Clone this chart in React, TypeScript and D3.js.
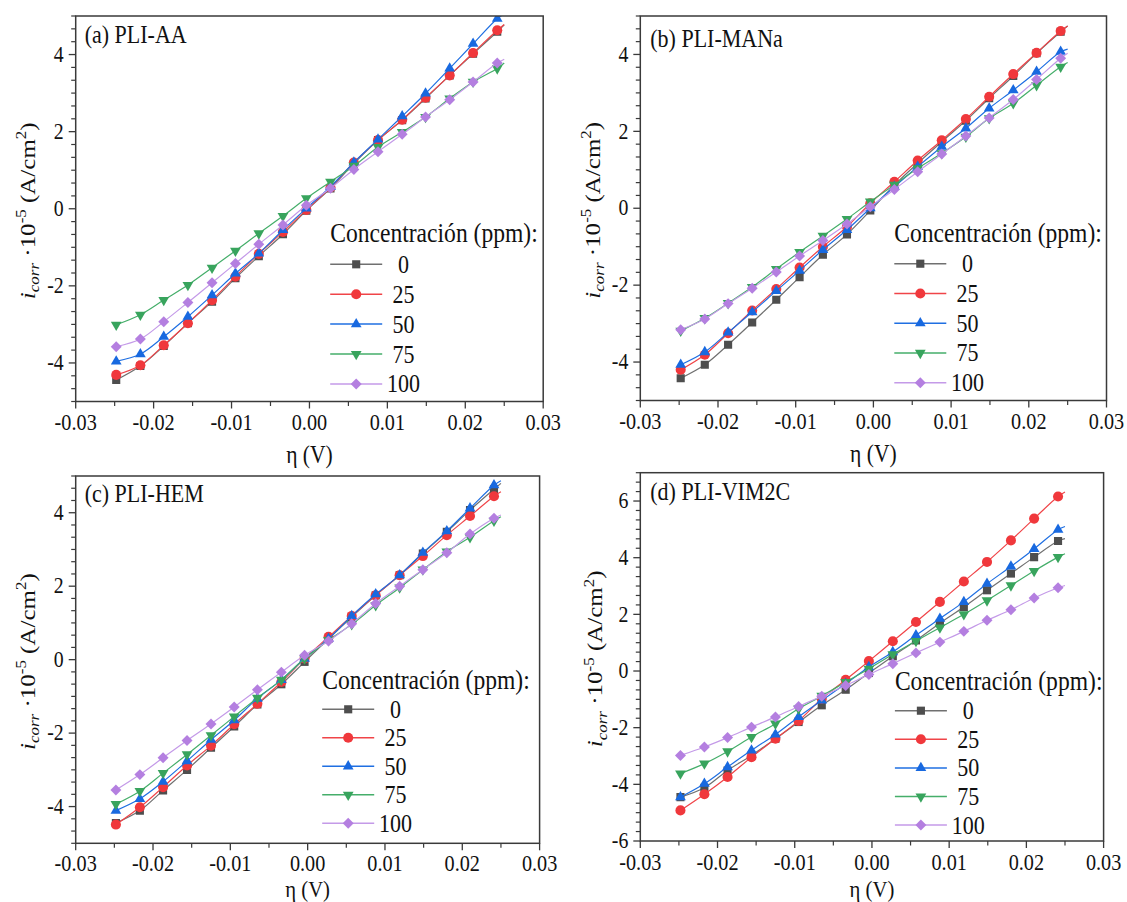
import React from 'react';
import * as d3 from 'd3';

const eta = [-0.0248, -0.0217, -0.0187, -0.0156, -0.0125, -0.0095, -0.0065, -0.0034, -0.0004, 0.0027, 0.0057, 0.0088, 0.0119, 0.0149, 0.018, 0.021, 0.0241];
const etaEnd = 0.025;
const concentrations = ['0', '25', '50', '75', '100'];
const xTicks = [-0.03, -0.02, -0.01, 0, 0.01, 0.02, 0.03];
const xTickLabels = ['-0.03', '-0.02', '-0.01', '0.00', '0.01', '0.02', '0.03'];
const yTicksABC = [-4, -2, 0, 2, 4];
const yTicksD = [-6, -4, -2, 0, 2, 4, 6];

// (a) PLI-AA
const aa0 = [-4.44, -4.08, -3.56, -2.97, -2.41, -1.8, -1.23, -0.66, -0.05, 0.53, 1.17, 1.78, 2.3, 2.86, 3.46, 4.02, 4.59];
const aa25 = [-4.31, -4.06, -3.54, -2.97, -2.37, -1.76, -1.17, -0.6, -0.03, 0.55, 1.2, 1.78, 2.31, 2.88, 3.46, 4.04, 4.63];
const aa50 = [-3.96, -3.77, -3.32, -2.8, -2.24, -1.68, -1.16, -0.55, 0.01, 0.57, 1.2, 1.8, 2.4, 2.99, 3.64, 4.28, 4.93];
const aa75 = [-3.01, -2.75, -2.37, -1.98, -1.53, -1.09, -0.64, -0.19, 0.27, 0.7, 1.11, 1.6, 1.99, 2.38, 2.86, 3.29, 3.64];
const aa100 = [-3.58, -3.38, -2.93, -2.43, -1.92, -1.42, -0.92, -0.42, 0.09, 0.53, 1.02, 1.48, 1.93, 2.38, 2.83, 3.29, 3.78];
const aaEnd = [4.77, 4.78, 5.05, 3.78, 3.88];

// (b) PLI-MANa
const ma0 = [-4.42, -4.07, -3.55, -2.97, -2.38, -1.79, -1.21, -0.68, -0.06, 0.6, 1.17, 1.73, 2.28, 2.86, 3.44, 4.03, 4.59];
const ma25 = [-4.2, -3.81, -3.25, -2.66, -2.1, -1.54, -1.0, -0.48, 0.13, 0.69, 1.24, 1.77, 2.32, 2.9, 3.49, 4.04, 4.61];
const ma50 = [-4.07, -3.74, -3.23, -2.7, -2.15, -1.62, -1.08, -0.56, 0.0, 0.56, 1.08, 1.6, 2.08, 2.6, 3.07, 3.55, 4.07];
const ma75 = [-3.19, -2.86, -2.47, -2.05, -1.58, -1.14, -0.72, -0.28, 0.17, 0.61, 1.04, 1.43, 1.86, 2.34, 2.73, 3.2, 3.68];
const ma100 = [-3.16, -2.88, -2.48, -2.08, -1.66, -1.24, -0.84, -0.41, 0.04, 0.49, 0.95, 1.41, 1.88, 2.35, 2.83, 3.35, 3.9];
const maEnd = [4.74, 4.74, 4.14, 3.79, 4.03];

// (c) PLI-HEM
const he0 = [-4.45, -4.11, -3.56, -3.0, -2.4, -1.82, -1.22, -0.67, -0.06, 0.57, 1.16, 1.75, 2.3, 2.89, 3.48, 4.07, 4.64];
const he25 = [-4.49, -4.02, -3.47, -2.88, -2.34, -1.76, -1.2, -0.61, 0.03, 0.62, 1.19, 1.75, 2.3, 2.82, 3.39, 3.91, 4.45];
const he50 = [-4.11, -3.79, -3.32, -2.76, -2.18, -1.65, -1.06, -0.55, 0.03, 0.57, 1.19, 1.78, 2.3, 2.91, 3.5, 4.12, 4.75];
const he75 = [-3.93, -3.58, -3.09, -2.58, -2.06, -1.55, -1.04, -0.55, 0.03, 0.53, 0.96, 1.48, 1.96, 2.45, 2.94, 3.33, 3.78];
const he100 = [-3.55, -3.13, -2.67, -2.2, -1.75, -1.29, -0.82, -0.34, 0.12, 0.51, 0.98, 1.53, 2.0, 2.45, 2.91, 3.42, 3.85];
const heEnd = [4.8, 4.57, 4.87, 3.89, 3.94];

// (d) PLI-VIM2C
const vi0 = [-4.45, -4.12, -3.51, -2.98, -2.39, -1.8, -1.21, -0.66, -0.07, 0.52, 1.08, 1.69, 2.26, 2.85, 3.44, 4.02, 4.59];
const vi25 = [-4.92, -4.35, -3.74, -3.04, -2.39, -1.76, -0.98, -0.31, 0.35, 1.05, 1.73, 2.44, 3.16, 3.85, 4.61, 5.38, 6.16];
const vi50 = [-4.45, -3.98, -3.39, -2.8, -2.24, -1.62, -1.04, -0.45, 0.14, 0.67, 1.26, 1.85, 2.44, 3.08, 3.69, 4.31, 4.99];
const vi75 = [-3.62, -3.27, -2.84, -2.33, -1.86, -1.33, -0.88, -0.39, 0.08, 0.59, 1.06, 1.53, 2.0, 2.49, 3.02, 3.53, 4.02];
const vi100 = [-2.98, -2.68, -2.35, -1.98, -1.62, -1.25, -0.89, -0.51, -0.12, 0.26, 0.64, 1.02, 1.4, 1.79, 2.16, 2.58, 2.94];
const viEnd = [4.67, 6.32, 5.1, 4.14, 3.02];

const markerColors = ['#4e4e4e', '#f0383c', '#1869e0', '#38a45d', '#b47fe0'];
const lineColors = ['#707070', '#f04448', '#1f6fe2', '#45ae6a', '#c49ae8'];
const shapes = ['square', 'circle', 'triUp', 'triDown', 'diamond'];

const FONT = 'Liberation Serif';
const AXIS = '#3a3a3a';
const SX = 0.88;

type Panel = {
  id: string; title: string; series: number[][]; ends: number[];
  left: number; top: number; right: number; bottom: number;
  ydom: [number, number]; yticks: number[];
  lx: number; lTitle: number; lRow0: number; lStep: number;
  xtickOff: number; xlabOff: number; xlabSize: number; ylabOff: number; titleDy: number; titleDx: number;
};

const panels: Panel[] = [
  { id: 'a', title: '(a) PLI-AA', series: [aa0, aa25, aa50, aa75, aa100], ends: aaEnd,
    left: 75.7, top: 16, right: 543.2, bottom: 401.5, ydom: [-5, 5], yticks: yTicksABC,
    lx: 254.5, lTitle: 226.3, lRow0: 248.3, lStep: 29.9, xtickOff: 28.5, xlabOff: 61, xlabSize: 24.5, ylabOff: 41, titleDy: 27.3, titleDx: 9 },
  { id: 'b', title: '(b) PLI-MANa', series: [ma0, ma25, ma50, ma75, ma100], ends: maEnd,
    left: 640.3, top: 16, right: 1106.5, bottom: 400.5, ydom: [-5, 5], yticks: yTicksABC,
    lx: 254, lTitle: 225.7, lRow0: 247.7, lStep: 29.75, xtickOff: 28.5, xlabOff: 61, xlabSize: 24.5, ylabOff: 40.5, titleDy: 30.5, titleDx: 10 },
  { id: 'c', title: '(c) PLI-HEM', series: [he0, he25, he50, he75, he100], ends: heEnd,
    left: 75.7, top: 476, right: 539.6, bottom: 843.3, ydom: [-5, 5], yticks: yTicksABC,
    lx: 246.5, lTitle: 213.3, lRow0: 233.3, lStep: 28.5, xtickOff: 27.5, xlabOff: 53.2, xlabSize: 23.5, ylabOff: 41, titleDy: 25.7, titleDx: 9 },
  { id: 'd', title: '(d) PLI-VIM2C', series: [vi0, vi25, vi50, vi75, vi100], ends: viEnd,
    left: 640.3, top: 472.7, right: 1103.6, bottom: 841, ydom: [-6, 7], yticks: yTicksD,
    lx: 254.6, lTitle: 217.3, lRow0: 238, lStep: 28.6, xtickOff: 28.5, xlabOff: 55.5, xlabSize: 23.5, ylabOff: 38, titleDy: 27.3, titleDx: 10 },
];

function T({ x, y, size, anchor = 'start', dy, children }: { x: number; y: number; size: number; anchor?: string; dy?: string; children: React.ReactNode }) {
  return (
    <text transform={`translate(${x},${y}) scale(${SX},1)`} fontSize={size} textAnchor={anchor} dy={dy} fontFamily={FONT} fill="#111">{children}</text>
  );
}

function symbolPath(shape: string): { d: string; rot: number } {
  switch (shape) {
    case 'square': return { d: d3.symbol(d3.symbolSquare, 66)() as string, rot: 0 };
    case 'circle': return { d: d3.symbol(d3.symbolCircle, 80)() as string, rot: 0 };
    case 'triUp': return { d: d3.symbol(d3.symbolTriangle, 50)() as string, rot: 0 };
    case 'triDown': return { d: d3.symbol(d3.symbolTriangle, 50)() as string, rot: 180 };
    default: return { d: d3.symbol(d3.symbolSquare, 60)() as string, rot: 45 };
  }
}

function Marker({ shape, x, y, color }: { shape: string; x: number; y: number; color: string }) {
  const s = symbolPath(shape);
  return <path d={s.d} transform={`translate(${x},${y}) rotate(${s.rot})`} fill={color} />;
}

function PanelView({ p }: { p: Panel }) {
  const x = d3.scaleLinear().domain([-0.03, 0.03]).range([p.left, p.right]);
  const y = d3.scaleLinear().domain(p.ydom).range([p.bottom, p.top]);
  const line = d3.line<[number, number]>().x(d => x(d[0])).y(d => y(d[1])).curve(d3.curveCatmullRom.alpha(0.5));
  const xMinor = xTicks.slice(0, -1).map((t, i) => (t + xTicks[i + 1]) / 2);
  const yMinor = d3.range(p.ydom[0] * 3, p.ydom[1] * 3 + 1).map(k => k / 3)
    .filter(v => !p.yticks.some(t => Math.abs(t - v) < 1e-6));
  const cy = (p.top + p.bottom) / 2;
  const cx = (p.left + p.right) / 2;
  const clipId = `clip-${p.id}`;
  const lx = p.left + p.lx;
  const ylx = p.left - p.ylabOff;
  return (
    <g fontFamily={FONT}>
      <defs>
        <clipPath id={clipId}><rect x={p.left} y={p.top} width={p.right - p.left} height={p.bottom - p.top} /></clipPath>
      </defs>
      {xTicks.map((t, i) => (
        <g key={'xt' + i}>
          <line x1={x(t)} x2={x(t)} y1={p.bottom} y2={p.bottom + 7} stroke={AXIS} strokeWidth={1.3} />
          <T x={x(t)} y={p.bottom + p.xtickOff} size={23} anchor="middle">{xTickLabels[i]}</T>
        </g>
      ))}
      {xMinor.map((t, i) => (
        <line key={'xm' + i} x1={x(t)} x2={x(t)} y1={p.bottom} y2={p.bottom + 4.5} stroke={AXIS} strokeWidth={1.2} />
      ))}
      {p.yticks.map((t, i) => (
        <g key={'yt' + i}>
          <line x1={p.left - 7} x2={p.left} y1={y(t)} y2={y(t)} stroke={AXIS} strokeWidth={1.3} />
          <T x={p.left - 12} y={y(t)} dy="0.32em" size={22.5} anchor="end">{String(t)}</T>
        </g>
      ))}
      {yMinor.map((t, i) => (
        <line key={'ym' + i} x1={p.left - 4.5} x2={p.left} y1={y(t)} y2={y(t)} stroke={AXIS} strokeWidth={1.2} />
      ))}
      <g clipPath={`url(#${clipId})`}>
        {p.series.map((vals, si) => {
          const pts: [number, number][] = vals.map((v, i) => [eta[i], v]);
          pts.push([etaEnd, p.ends[si]]);
          return (
            <g key={'s' + si}>
              <path d={line(pts) as string} fill="none" stroke={lineColors[si]} strokeWidth={1.2} />
              {vals.map((v, i) => (
                <Marker key={i} shape={shapes[si]} x={x(eta[i])} y={y(v)} color={markerColors[si]} />
              ))}
            </g>
          );
        })}
      </g>
      <rect x={p.left} y={p.top} width={p.right - p.left} height={p.bottom - p.top} fill="none" stroke={AXIS} strokeWidth={1.5} />
      <T x={p.left + p.titleDx} y={p.top + p.titleDy} size={25}>{p.title}</T>
      <T x={lx} y={p.top + p.lTitle} size={26.8}>Concentración (ppm):</T>
      {concentrations.map((c, i) => {
        const ry = p.top + p.lRow0 + i * p.lStep;
        return (
          <g key={'lg' + i}>
            <line x1={lx} x2={lx + 52} y1={ry} y2={ry} stroke={lineColors[i]} strokeWidth={1.5} />
            <Marker shape={shapes[i]} x={lx + 26} y={ry} color={markerColors[i]} />
            <T x={lx + 73.3} y={ry} dy="0.34em" size={25} anchor="middle">{c}</T>
          </g>
        );
      })}
      <T x={cx} y={p.bottom + p.xlabOff} size={p.xlabSize} anchor="middle">η (V)</T>
      <text transform={`translate(${ylx},${cy + 2}) rotate(-90) scale(1,${SX})`} textAnchor="middle" fontSize={25} fontFamily={FONT} fill="#111">
        <tspan fontStyle="italic">i</tspan>
        <tspan fontStyle="italic" fontSize={17} dy={5}>corr</tspan>
        <tspan dy={-5}> ·10</tspan>
        <tspan fontSize={17} dy={-10}>-5</tspan>
        <tspan dy={10}> (A/cm</tspan>
        <tspan fontSize={17} dy={-10}>2</tspan>
        <tspan dy={10}>)</tspan>
      </text>
    </g>
  );
}

export default function App() {
  return (
    <svg width={1127} height={902} viewBox="0 0 1127 902" style={{ position: 'absolute', left: 0, top: 0, background: '#fff' }}>
      <rect x={0} y={0} width={1127} height={902} fill="#fff" />
      {panels.map(p => <PanelView key={p.id} p={p} />)}
    </svg>
  );
}
